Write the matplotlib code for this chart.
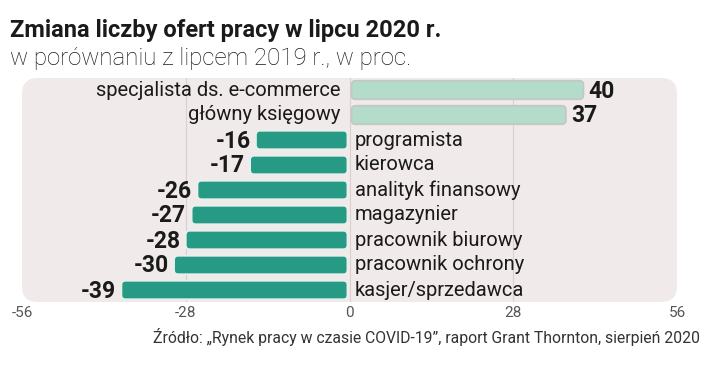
import matplotlib
matplotlib.use("Agg")
import matplotlib.pyplot as plt
from matplotlib.patches import FancyBboxPatch

# data
jobs = ["specjalista ds. e-commerce", "główny księgowy", "programista", "kierowca",
        "analityk finansowy", "magazynier", "pracownik biurowy", "pracownik ochrony",
        "kasjer/sprzedawca"]
change = [40, 37, -16, -17, -26, -27, -28, -30, -39]
ticks = [-56, -28, 0, 28, 56]

font = ["Roboto", "DejaVu Sans"]
pos_color = "#b3dccb"
neg_color = "#269a85"

W, H = 7.2, 3.68
fig = plt.figure(figsize=(W, H), dpi=100)
ax_l, ax_b, ax_w, ax_h = 22 / 720, 66 / 368, 655 / 720, 224 / 368
ax = fig.add_axes([ax_l, ax_b, ax_w, ax_h])
ax.set_xlim(-56, 56)
n = len(jobs)
ax.set_ylim(n - 1 + 0.48, -0.48)

# background panel with rounded corners
bg = FancyBboxPatch((0, 0), 1, 1, boxstyle="round,pad=0,rounding_size=0.024",
                    mutation_aspect=ax_w * W / (ax_h * H),
                    transform=ax.transAxes, facecolor="#f1eaea", edgecolor="none",
                    zorder=0, clip_on=False)
ax.add_patch(bg)

for t in [-28, 0, 28]:
    ax.axvline(t, color="#d9d0d0", lw=0.8, zorder=1)

# pixels per data unit -> keep bar corners round
px_x = ax_w * W * 100 / 112
px_y = ax_h * H * 100 / (n - 1 + 0.96)
aspect = px_x / px_y
bar_h = 0.74
gap = 0.35

for i, (job, v) in enumerate(zip(jobs, change)):
    if v > 0:
        x0, w = gap, v - gap
        fc, ec = pos_color, "#c4c8c5"
    else:
        x0, w = v, -v - gap
        fc, ec = neg_color, "#e6f1ec"
    p = FancyBboxPatch((x0, i - bar_h / 2), w, bar_h,
                       boxstyle="round,pad=0,rounding_size=0.7",
                       mutation_aspect=aspect,
                       facecolor=fc, edgecolor=ec, lw=1.3, zorder=3)
    ax.add_patch(p)
    if v > 0:
        ax.text(-1.6, i, job, ha="right", va="center", fontsize=14.5,
                family=font, color="#1a1a1a")
        ax.text(v + 0.9, i + 0.04, str(v), ha="left", va="center", fontsize=16.5,
                family=font, fontweight="bold", color="#1a1a1a")
    else:
        ax.text(0.9, i, job, ha="left", va="center", fontsize=14.5,
                family=font, color="#1a1a1a")
        ax.text(v - 0.9, i + 0.04, str(v), ha="right", va="center", fontsize=16.5,
                family=font, fontweight="bold", color="#1a1a1a")

ax.set_xticks(ticks)
ax.set_xticklabels([str(t) for t in ticks], family=font, fontsize=11,
                   color="#555555")
ax.tick_params(axis="x", length=0, pad=3)
ax.set_yticks([])
for s in ax.spines.values():
    s.set_visible(False)
ax.patch.set_visible(False)

fig.text(10 / 720, 1 - 30 / 368, "Zmiana liczby ofert pracy w lipcu 2020 r.",
         fontsize=17, fontweight="bold", family=font, color="#1a1a1a", va="center")
fig.text(10 / 720, 1 - 58 / 368, "w porównaniu z lipcem 2019 r., w proc.",
         fontsize=17.3, fontweight="light", family=font,
         color="#1a1a1a", va="center")
fig.text(700 / 720, 1 - 337 / 368,
         "Źródło: „Rynek pracy w czasie COVID-19”, raport Grant Thornton, sierpień 2020",
         fontsize=11.3, family=font, color="#333333",
         ha="right", va="center")

fig.savefig("out.png", dpi=100, facecolor="white")
